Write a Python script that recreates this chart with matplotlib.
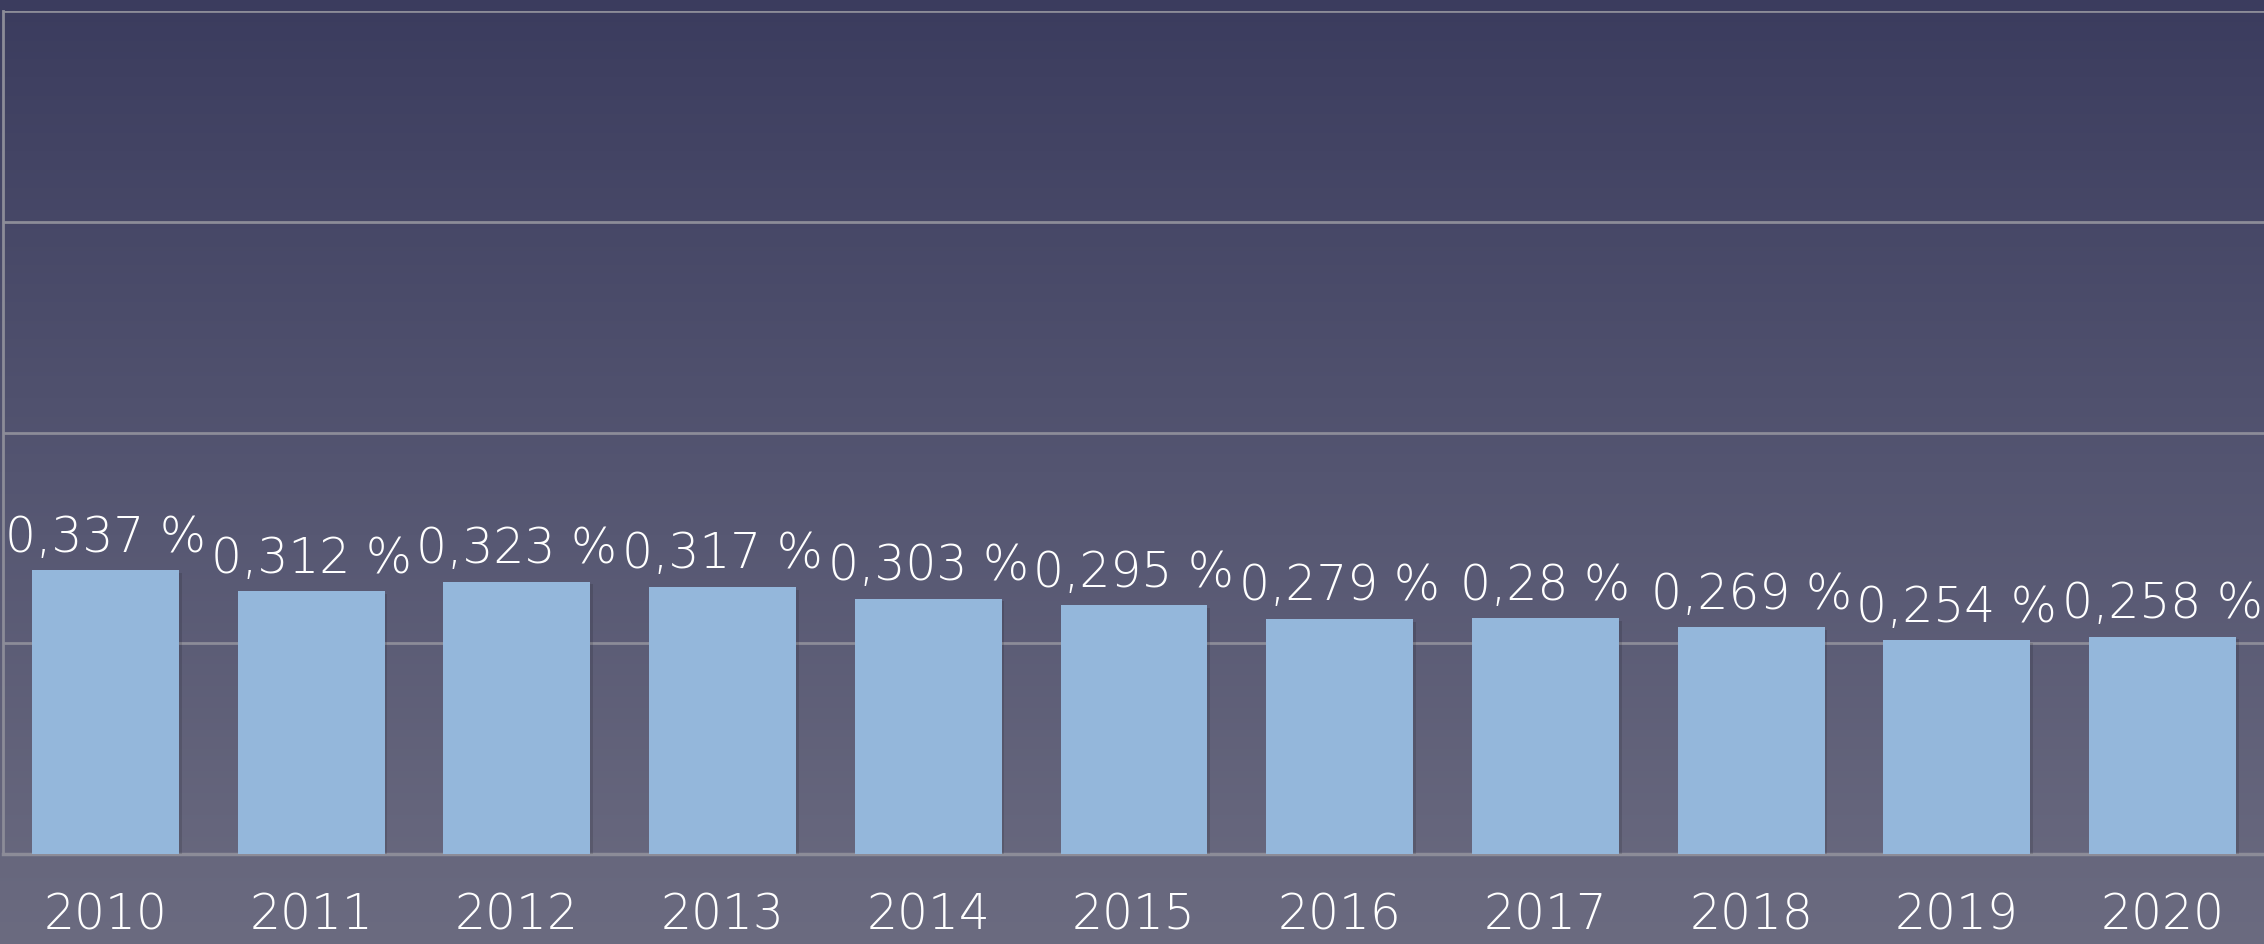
import numpy as np
import matplotlib.pyplot as plt
from matplotlib import patheffects
from matplotlib.colors import LinearSegmentedColormap

years = ['2010', '2011', '2012', '2013', '2014', '2015', '2016', '2017', '2018', '2019', '2020']
share = [0.337, 0.312, 0.323, 0.317, 0.303, 0.295, 0.279, 0.28, 0.269, 0.254, 0.258]
share_labels = ['0,337 %', '0,312 %', '0,323 %', '0,317 %', '0,303 %', '0,295 %',
                '0,279 %', '0,28 %', '0,269 %', '0,254 %', '0,258 %']

plt.rcParams['font.family'] = ['DejaVu Sans']

fig = plt.figure(figsize=(22.64, 9.44), dpi=100)

# background gradient, dark navy at the top fading to grey at the bottom
bg = fig.add_axes([0, 0, 1, 1])
grad = np.linspace(0, 1, 256).reshape(-1, 1)
cmap = LinearSegmentedColormap.from_list('bg', ['#3b3c5e', '#545571', '#6b6b80'])
bg.imshow(grad, aspect='auto', cmap=cmap, extent=[0, 1, 0, 1], origin='upper')
bg.set_axis_off()

ax = fig.add_axes([2.5 / 2264, 90 / 944, 2263 / 2264, 843 / 944])
ax.set_facecolor('none')

x = np.arange(len(years))
bars = ax.bar(x, share, width=0.714, color='#94b7db', zorder=3)
for b in bars:
    b.set_path_effects([patheffects.SimplePatchShadow(offset=(2, -2), shadow_rgbFace='#000000', alpha=0.12),
                        patheffects.Normal()])

for xi, v, lab in zip(x, share, share_labels):
    ax.annotate(lab, (xi, v), xytext=(0, 6), textcoords='offset points',
                ha='center', va='bottom', color='white', fontsize=35, fontweight=200)

ax.set_xlim(-0.5, 10.5)
ax.set_ylim(0, 1.0)
ax.set_yticks([0, 0.25, 0.5, 0.75, 1.0])
ax.yaxis.grid(True, color='#8c8c98', linewidth=2, zorder=1)
ax.set_yticklabels([])
ax.tick_params(axis='y', length=0)

ax.set_xticks(x)
ax.set_xticklabels(years, color='white', fontsize=35, fontweight=200)
ax.tick_params(axis='x', length=0, pad=27)

for side in ['top', 'right']:
    ax.spines[side].set_visible(False)
ax.spines['left'].set_color('#8c8c98')
ax.spines['left'].set_linewidth(2)
ax.spines['bottom'].set_color('#8c8c98')
ax.spines['bottom'].set_linewidth(2.5)

plt.savefig('out.png', dpi=100)
